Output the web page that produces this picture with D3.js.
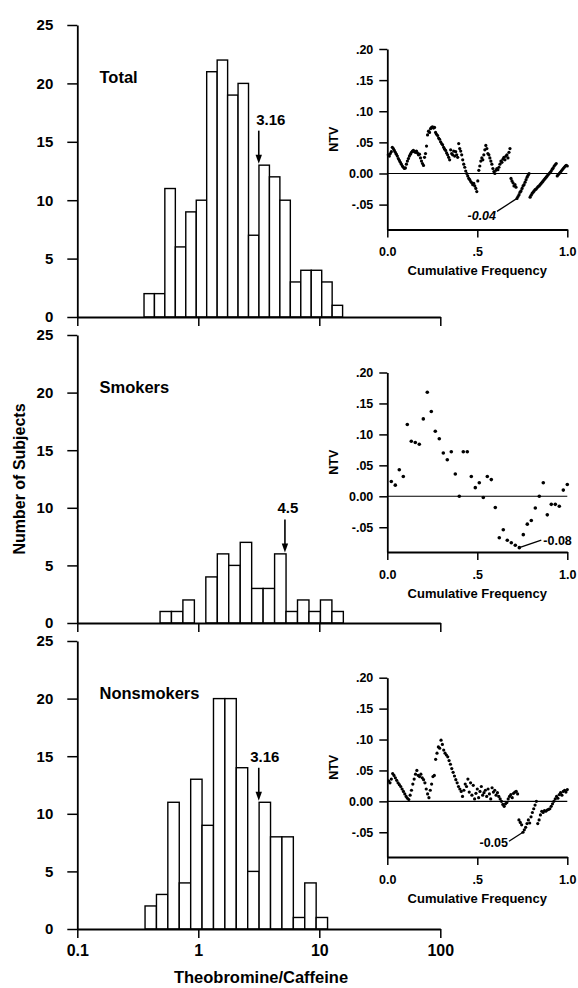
<!DOCTYPE html>
<html>
<head>
<meta charset="utf-8">
<title>Theobromine/Caffeine</title>
<script src="https://cdn.jsdelivr.net/npm/d3@7"></script>
<style>
    html, body { margin: 0; padding: 0; background: #fff; }
    svg { display: block; }
    text { font-family: "Liberation Sans", Arial, Helvetica, sans-serif; font-weight: bold; fill: #000; }
</style>
</head>
<body>
<svg id="chart" width="578" height="988"></svg>
<script>
// ---- data ----
var panelNames = ["Total", "Smokers", "Nonsmokers"];

// histogram bin edges (theobromine/caffeine ratio) and counts per bin
var totalEdges = [0.356, 0.434, 0.529, 0.646, 0.788, 0.962, 1.173, 1.432, 1.747, 2.131,
    2.600, 3.172, 3.871, 4.723, 5.762, 7.031, 8.578, 10.47, 12.77, 15.58];
var totalCounts = [2, 2, 11, 6, 9, 10, 21, 22, 19, 20, 7, 13, 12, 10, 3, 4, 4, 3, 1];

var smokerEdges = [0.483, 0.600, 0.746, 0.928, 1.154, 1.436, 1.785, 2.221, 2.761,
    3.434, 4.271, 5.311, 6.605, 8.215, 10.22, 12.71, 15.80];
var smokerCounts = [1, 1, 2, 0, 4, 6, 5, 7, 3, 3, 6, 1, 2, 1, 2, 1];

var nonsmokerEdges = [0.363, 0.451, 0.560, 0.696, 0.865, 1.074, 1.335, 1.658, 2.060,
    2.560, 3.181, 3.953, 4.911, 6.102, 7.582, 9.419, 11.70];
var nonsmokerCounts = [2, 3, 11, 4, 13, 9, 20, 20, 14, 5, 11, 8, 8, 1, 4, 1];

// arrow labels and where the arrows stand on the ratio axis
var meanLabels = ["3.16", "4.5", "3.16"];
var meanAt = [3.16, 5.2, 3.16];

// NTV against cumulative frequency, one value per subject in rank order
var totalNtv = [
    0.030, 0.028, 0.032, 0.035, 0.042, 0.040,
    0.037, 0.034, 0.031, 0.028, 0.024, 0.021, 0.018,
    0.015, 0.012, 0.010, 0.008, 0.009, 0.015, 0.020, 0.024,
    0.028, 0.031, 0.034, 0.036, 0.037, 0.035, 0.034, 0.036, 0.033, 0.030, 0.031,
    0.025, 0.020, 0.016, 0.013, 0.026, 0.032, 0.044,
    0.062, 0.068, 0.066, 0.072, 0.074, 0.075, 0.073, 0.074,
    0.066, 0.063, 0.061, 0.057, 0.055, 0.051, 0.048, 0.046, 0.042, 0.039, 0.037, 0.033, 0.030, 0.026, 0.022,
    0.038, 0.032, 0.030, 0.036, 0.028, 0.035, 0.030, 0.026,
    0.048, 0.040, 0.036, 0.030, 0.022, 0.015, 0.010, 0.004, 0.000, -0.004,
    -0.008, -0.010, -0.013, -0.015, -0.018, -0.016, -0.020, -0.024, -0.029,
    -0.012, 0.005, 0.012, 0.020, 0.025, 0.022, 0.030, 0.038, 0.045,
    0.040, 0.032, 0.030, 0.025, 0.020, 0.015, 0.008, 0.003, 0.000,
    0.005, 0.008, 0.006, 0.010, 0.015, 0.020, 0.018, 0.023, 0.026, 0.022, 0.028, 0.030, 0.025, 0.034, 0.040,
    -0.008, -0.012, -0.015, -0.020, -0.018, -0.022,
    -0.040, -0.037, -0.034, -0.030, -0.028, -0.024, -0.020, -0.018, -0.014, -0.010, -0.006, -0.003, 0.000,
    -0.038, -0.035, -0.032, -0.030,
    -0.028, -0.026, -0.025, -0.023, -0.021, -0.020, -0.018, -0.016, -0.014, -0.012, -0.010, -0.008,
    -0.006, -0.004, -0.002, 0.000, 0.002, 0.004, 0.007, 0.009, 0.012, 0.014, 0.016,
    -0.004, -0.002, 0.000, 0.002, 0.004, 0.006, 0.008, 0.010, 0.012, 0.013, 0.012
];
var smokerNtv = [
    0.024, 0.018, 0.043, 0.032, 0.116, 0.089, 0.087, 0.084, 0.125, 0.168,
    0.137, 0.105, 0.093, 0.070, 0.059, 0.072, 0.036, 0.000, 0.072, 0.072,
    0.032, 0.014, 0.022, -0.002, 0.032, 0.027, -0.018, -0.067, -0.054, -0.071,
    -0.075, -0.079, -0.083, -0.062, -0.045, -0.039, -0.019, 0.000, 0.022, -0.030,
    -0.013, -0.013, -0.016, 0.010, 0.019
];
var nonsmokerNtv = [
    0.033, 0.030, 0.036, 0.045, 0.042, 0.038,
    0.034, 0.030, 0.027, 0.024, 0.020, 0.016, 0.012, 0.008, 0.005, 0.003,
    0.010, 0.018, 0.028, 0.036, 0.044,
    0.050, 0.042, 0.040, 0.044, 0.038, 0.035, 0.030,
    0.020, 0.012, 0.006, 0.018, 0.028, 0.040, 0.042,
    0.068, 0.078, 0.088, 0.086, 0.099, 0.092, 0.083, 0.078,
    0.075, 0.072, 0.066, 0.060, 0.053, 0.047, 0.041, 0.035, 0.030, 0.024, 0.020, 0.016,
    0.008, 0.018, 0.028, 0.024, 0.036, 0.015, 0.030, 0.010,
    0.026, 0.004, 0.013, 0.020, 0.006, 0.016, 0.024, 0.010, 0.014, 0.018,
    0.008, 0.020, 0.012, 0.004, 0.022, 0.015, 0.018, 0.010, 0.014,
    0.008, 0.004, 0.000, -0.005, -0.008, -0.004,
    -0.002, 0.004, 0.008, 0.011, 0.006, 0.013, 0.015, 0.016, 0.012,
    -0.030, -0.034, -0.038, -0.050,
    -0.046, -0.042, -0.036, -0.030, -0.035, -0.025, -0.018, -0.012, -0.006, 0.000,
    -0.036, -0.030, -0.022,
    -0.016, -0.018, -0.015, -0.016, -0.014, -0.013, -0.012,
    -0.008, -0.004, 0.000, 0.004, 0.008, 0.005, 0.011,
    0.014, 0.010, 0.016, 0.018, 0.015, 0.019
];
var minLabels = ["-0.04", "-0.08", "-0.05"];

// axis ticks
var ratioTicks = [0.1, 1, 10, 100];
var countTicks = [0, 5, 10, 15, 20, 25];
var ntvTicks = [-0.05, 0, 0.05, 0.10, 0.15, 0.20];
var ntvTickLabels = ["-.05", "0.00", ".05", ".10", ".15", ".20"];
var cfTicks = [0, 0.5, 1];
var cfTickLabels = ["0.0", ".5", "1.0"];

// ---- layout ----
var svg = d3.select("#chart");

var histX = d3.scaleLog().domain([0.1, 100]).range([77.3, 440.3]);
var cfX = d3.scaleLinear().domain([0, 1]).range([387.3, 567.3]);

var panelBox = [{top: 25, bottom: 317}, {top: 335, bottom: 623}, {top: 641, bottom: 929}];
var insetBox = [{top: 49, bottom: 229.5}, {top: 372.5, bottom: 552}, {top: 677.7, bottom: 857}];
var meanDx = [12, 3, 6];
var minNote = [
    {dx: -20, dy: 13, tx: -21, ty: 22, anchor: "end", italic: true},
    {dx: 22, dy: -7.5, tx: 24, ty: -3, anchor: "start", italic: false},
    {dx: -14, dy: 9, tx: -15, ty: 15, anchor: "end", italic: false}
];

var panels = [
    {edges: totalEdges, counts: totalCounts, ntv: totalNtv},
    {edges: smokerEdges, counts: smokerCounts, ntv: smokerNtv},
    {edges: nonsmokerEdges, counts: nonsmokerCounts, ntv: nonsmokerNtv}
];

/**
 * Thickens axis lines and sets the tick label size, like the printed figure.
 */
function styleAxis(sel, fontSize) {
    sel.attr("font-size", fontSize).attr("font-family", null);
    sel.select(".domain").attr("stroke", "#000").attr("stroke-width", 1.8);
    sel.selectAll(".tick line").attr("stroke", "#000").attr("stroke-width", 1.5);
    return sel;
}

/**
 * Draws one histogram panel: bars, axes, name and mean arrow.
 */
function drawHistogram(p, i) {
    var box = panelBox[i];
    var y = d3.scaleLinear().domain([0, 25]).range([box.bottom, box.top]);
    var g = svg.append("g").attr("class", "histogram");

    var bins = p.counts.map(function(c, k) {
        return {count: c, x0: p.edges[k], x1: p.edges[k + 1]};
    });

    g.append("g").selectAll("rect")
        .data(bins.filter(function(d) { return d.count > 0; }))
        .join("rect")
        .attr("x", function(d) { return histX(d.x0); })
        .attr("y", function(d) { return y(d.count); })
        .attr("width", function(d) { return histX(d.x1) - histX(d.x0); })
        .attr("height", function(d) { return y(0) - y(d.count); })
        .attr("fill", "#fff")
        .attr("stroke", "#000")
        .attr("stroke-width", 1.4);

    g.append("g")
        .attr("transform", "translate(" + histX.range()[0] + ",0)")
        .call(d3.axisLeft(y).tickValues(countTicks).tickSize(10).tickPadding(14).tickSizeOuter(0))
        .call(styleAxis, 15);

    var bottomAxis = d3.axisBottom(histX).tickValues(ratioTicks).tickSize(9).tickPadding(7).tickSizeOuter(0)
        .tickFormat(i === 2 ? function(d) { return String(d); } : function() { return ""; });
    g.append("g")
        .attr("transform", "translate(0," + box.bottom + ")")
        .call(bottomAxis)
        .call(styleAxis, 16);

    g.append("text")
        .attr("x", 99.5)
        .attr("y", box.top + 58)
        .attr("font-size", 16.5)
        .text(panelNames[i]);

    // arrow to the tallest bar touching the mean
    var ax = histX(meanAt[i]);
    var tallest = d3.max(bins, function(d) {
        return (histX(d.x0) - 2 <= ax && histX(d.x1) + 2 >= ax) ? d.count : 0;
    });
    var tip = y(tallest) - 1.5;
    var top = tip - 33;
    g.append("line")
        .attr("x1", ax).attr("x2", ax)
        .attr("y1", top).attr("y2", tip - 6)
        .attr("stroke", "#000")
        .attr("stroke-width", 1.6);
    g.append("path")
        .attr("d", "M" + (ax - 3.2) + "," + (tip - 9) + "L" + (ax + 3.2) + "," + (tip - 9) + "L" + ax + "," + tip + "Z")
        .attr("fill", "#000");
    g.append("text")
        .attr("x", ax + meanDx[i])
        .attr("y", top - 6)
        .attr("text-anchor", "middle")
        .attr("font-size", 15)
        .text(meanLabels[i]);
}

/**
 * Draws the NTV inset of a panel.
 */
function drawInset(p, i) {
    var box = insetBox[i];
    var n = p.ntv.length;
    var ny = d3.scaleLinear().domain([-0.09, 0.2]).range([box.bottom, box.top]);
    var g = svg.append("g").attr("class", "inset");

    g.append("line")
        .attr("x1", cfX(0)).attr("x2", cfX(1))
        .attr("y1", ny(0)).attr("y2", ny(0))
        .attr("stroke", "#000")
        .attr("stroke-width", 1.1);

    g.append("g").selectAll("circle")
        .data(p.ntv)
        .join("circle")
        .attr("cx", function(d, k) { return cfX((k + 1) / n); })
        .attr("cy", function(d) { return ny(d); })
        .attr("r", i === 1 ? 1.8 : 1.6)
        .attr("fill", "#000");

    g.append("g")
        .attr("transform", "translate(" + cfX(0) + ",0)")
        .call(d3.axisLeft(ny).tickValues(ntvTicks).tickSize(8).tickPadding(6).tickSizeOuter(0)
            .tickFormat(function(d, k) { return ntvTickLabels[k]; }))
        .call(styleAxis, 12.5);

    g.append("g")
        .attr("transform", "translate(0," + box.bottom + ")")
        .call(d3.axisBottom(cfX).tickValues(cfTicks).tickSize(8).tickPadding(10).tickSizeOuter(0)
            .tickFormat(function(d, k) { return cfTickLabels[k]; }))
        .call(styleAxis, 12.5);

    var cy = (box.top + box.bottom) / 2;
    g.append("text")
        .attr("transform", "translate(338," + cy + ") rotate(-90)")
        .attr("text-anchor", "middle")
        .attr("font-size", 12.5)
        .text("NTV");

    g.append("text")
        .attr("x", cfX(0.5))
        .attr("y", box.bottom + 45.5)
        .attr("text-anchor", "middle")
        .attr("font-size", 13)
        .text("Cumulative Frequency");

    // leader to the lowest point
    var k = d3.minIndex(p.ntv);
    var px = cfX((k + 1) / n);
    var py = ny(p.ntv[k]);
    var note = minNote[i];
    g.append("line")
        .attr("x1", px).attr("y1", py)
        .attr("x2", px + note.dx).attr("y2", py + note.dy)
        .attr("stroke", "#000")
        .attr("stroke-width", 1.3);
    g.append("text")
        .attr("x", px + note.tx)
        .attr("y", py + note.ty)
        .attr("text-anchor", note.anchor)
        .attr("font-size", 12.5)
        .attr("font-style", note.italic ? "italic" : null)
        .text(minLabels[i]);
}

panels.forEach(drawHistogram);
panels.forEach(drawInset);

svg.append("text")
    .attr("x", 261)
    .attr("y", 983)
    .attr("text-anchor", "middle")
    .attr("font-size", 16.5)
    .text("Theobromine/Caffeine");

svg.append("text")
    .attr("transform", "translate(25,479) rotate(-90)")
    .attr("text-anchor", "middle")
    .attr("font-size", 16)
    .text("Number of Subjects");
</script>
</body>
</html>
